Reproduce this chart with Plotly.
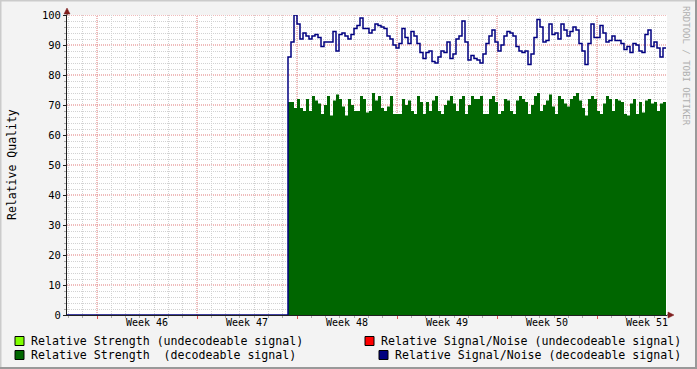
import pandas as pd
import plotly.graph_objects as go

# ---------------- data ----------------
range_start = "2009-11-06 21:36:00"
range_end = "2009-12-18 21:36:00"
data_start = "2009-11-22 08:52:48"
step = "18144s"

snr_decodeable = [
    86, 91, 100, 97, 92, 94, 93, 92, 93, 93.5,
    92.5, 89.5, 91, 91, 91, 94.5, 88, 93.5, 94, 93,
    92, 93.5, 95.5, 96.5, 99, 95.5, 95.5, 94, 95, 97,
    96.5, 96, 95.5, 93, 92, 90, 89, 90.5, 95.5, 92.5,
    90.5, 94.5, 93, 90.5, 87.5, 85.5, 87.5, 88, 84.5, 84,
    86, 88, 87.5, 91, 85.5, 87, 92, 93, 98, 91,
    85, 86.5, 85.5, 85, 84, 87, 90.5, 93, 95, 91,
    88, 90, 93, 94.5, 94, 93, 89.5, 88, 87.5, 88,
    83.5, 87, 92.5, 98.5, 96, 91, 91.5, 97, 93.5, 94,
    92, 97, 95, 93, 94.5, 96, 95, 90.5, 88, 83.5,
    90.5, 97, 92.5, 92.5, 96.5, 94, 91, 91.5, 93, 91.5,
    91.5, 90.5, 88.5, 89.5, 87.5, 90.5, 90, 88, 87.5, 93.5,
    95, 89.5, 91, 89, 86, 89, 89,
]

strength_decodeable = [
    71, 71, 69, 72, 69, 68, 72, 68, 73, 71.5,
    70.5, 67, 70, 73, 66.5, 71.5, 73.5, 72, 69.5, 66.5,
    72, 70, 68, 68, 73, 72, 67.5, 68, 74, 71.5,
    73, 69, 68, 69.5, 73, 67, 67, 67, 72, 70,
    71.5, 68, 67, 73, 71, 67, 71, 68, 71.5, 73,
    68, 67, 70, 71.5, 73, 70.5, 68, 72, 73, 67,
    70, 73, 72, 72, 73, 67, 67, 72, 73, 71,
    67, 68, 72, 71.5, 68, 67, 71.5, 73, 72, 71,
    67, 70, 73, 74, 68, 70, 71.5, 73.5, 69.5, 67,
    73, 72, 70.5, 69.5, 72, 73, 74, 71.5, 69, 66.5,
    72, 73, 72, 68, 67, 70.5, 73, 72, 68, 72,
    71.5, 71, 67, 66.5, 70.5, 72, 67, 71, 67.5, 71.5,
    72, 70.5, 71, 68, 70.5, 71, 71,
]

legend_labels = [
    "Relative Strength (undecodeable signal)",
    "Relative Signal/Noise (undecodeable signal)",
    "Relative Strength\u00a0\u00a0(decodeable signal)",
    "Relative Signal/Noise (decodeable signal)",
]
legend_colors = ["#80FF00", "#FF0000", "#006600", "#000080"]

# ---------------- figure ----------------
W, H = 697, 369
L, R, T, B = 67, 30, 15, 54
PW, PH = W - L - R, H - T - B


def px(x):
    return (x - L) / PW


def py(y):
    return (H - B - y) / PH


times = pd.date_range(data_start, periods=len(snr_decodeable), freq=step)
blue_x = [pd.Timestamp(range_start)] + list(times)
blue_y = [0] + snr_decodeable

FONT = "DejaVu Sans Mono"
MGRID = "#E07878"
GRID = "#D2D2D2"
DOT = "1px,1px"

days = pd.date_range("2009-11-06", "2009-12-19", freq="D")
week_starts = [d for d in days if d.weekday() == 0]
minor_days = [d for d in days if d.weekday() != 0]
major_y = list(range(0, 101, 10))
minor_y = [v for v in range(0, 101, 2) if v % 10 != 0]

fig = go.Figure()
fig.add_trace(go.Scatter(
    x=list(times), y=strength_decodeable, mode="lines", line_shape="hv",
    line=dict(color="#006600", width=0), fill="tozeroy", fillcolor="#006600",
    name=legend_labels[2], hoverinfo="skip"))
fig.add_trace(go.Scatter(
    x=blue_x, y=blue_y, mode="lines", line_shape="hv",
    line=dict(color="#000080", width=1.5), name=legend_labels[3], hoverinfo="skip"))
# invisible trace to activate the label axis
fig.add_trace(go.Scatter(x=[pd.Timestamp(range_start)], y=[0], xaxis="x2",
                         mode="markers", marker=dict(opacity=0), hoverinfo="skip"))

week_ms = 7 * 24 * 3600 * 1000

fig.update_layout(
    template="none",
    width=W, height=H, margin=dict(l=L, r=R, t=T, b=B),
    paper_bgcolor="#F3F3F3", plot_bgcolor="#FFFFFF", showlegend=False,
    font=dict(family=FONT, size=10, color="#000000"),
    xaxis=dict(
        type="date", range=[range_start, range_end], tickmode="array", tickvals=week_starts,
        showticklabels=False, ticks="outside", ticklen=3, tickcolor="#DE5050",
        showgrid=False,
        minor=dict(tickmode="array", tickvals=minor_days, showgrid=True,
                   gridcolor=GRID, griddash=DOT, gridwidth=1,
                   ticks="outside", ticklen=2, tickcolor="#AAAAAA"),
        showline=True, linecolor="#1F1F1F", linewidth=1, zeroline=False,
    ),
    xaxis2=dict(
        type="date", overlaying="x", matches="x", anchor="y", side="bottom",
        tick0="2009-11-12 12:00", dtick=week_ms, tickformat="Week %V",
        showgrid=False, ticks="", showline=False, zeroline=False,
        minor=dict(showgrid=False, ticks=""),
        tickfont=dict(family=FONT, size=10, color="#000000"),
    ),
    yaxis=dict(
        range=[0, 100], tickmode="array", tickvals=major_y, ticks="outside", ticklen=3,
        tickcolor="#1F1F1F",
        showgrid=False,
        minor=dict(tickmode="array", tickvals=minor_y, showgrid=True,
                   gridcolor=GRID, griddash=DOT, gridwidth=1,
                   ticks="outside", ticklen=2, tickcolor="#AAAAAA"),
        showline=True, linecolor="#1F1F1F", linewidth=1, zeroline=False,
        tickfont=dict(family=FONT, size=10.5, color="#000000"),
    ),
)

shapes = []
annotations = []

# major grid (red dotted), drawn from the tick lists
for d in week_starts:
    shapes.append(dict(type="line", xref="x", yref="paper", x0=d, x1=d, y0=0, y1=1,
                       layer="below", line=dict(color=MGRID, width=1, dash=DOT)))
for v in major_y[1:]:
    shapes.append(dict(type="line", xref="paper", yref="y", x0=0, x1=1, y0=v, y1=v,
                       layer="below", line=dict(color=MGRID, width=1, dash=DOT)))

# axis extensions and arrows
shapes.append(dict(type="line", xref="paper", yref="paper", x0=0, x1=0, y0=1, y1=py(11),
                   line=dict(color="#1F1F1F", width=1)))
shapes.append(dict(type="path", xref="paper", yref="paper",
                   path=f"M {px(64)} {py(14)} L {px(70)} {py(14)} L {px(67)} {py(8)} Z",
                   fillcolor="#7F1F1F", line=dict(color="#7F1F1F", width=0.5)))
shapes.append(dict(type="line", xref="paper", yref="paper", x0=1, x1=px(670), y0=0, y1=0,
                   line=dict(color="#1F1F1F", width=1)))
shapes.append(dict(type="path", xref="paper", yref="paper",
                   path=f"M {px(668)} {py(312)} L {px(668)} {py(318)} L {px(674)} {py(315)} Z",
                   fillcolor="#7F1F1F", line=dict(color="#7F1F1F", width=0.5)))

# frame shading
shapes.append(dict(type="line", xref="paper", yref="paper", x0=px(0), x1=px(W), y0=py(0.5), y1=py(0.5),
                   line=dict(color="#CBCBCB", width=2)))
shapes.append(dict(type="line", xref="paper", yref="paper", x0=px(0.5), x1=px(0.5), y0=py(0), y1=py(H),
                   line=dict(color="#CBCBCB", width=2)))
shapes.append(dict(type="line", xref="paper", yref="paper", x0=px(0), x1=px(W), y0=py(H - 1), y1=py(H - 1),
                   line=dict(color="#999999", width=2)))
shapes.append(dict(type="line", xref="paper", yref="paper", x0=px(W - 1), x1=px(W - 1), y0=py(0), y1=py(H),
                   line=dict(color="#999999", width=2)))

# y title
annotations.append(dict(text="Relative Quality", xref="paper", yref="paper", x=px(12), y=py(165),
                        xanchor="center", yanchor="middle", textangle=-90, showarrow=False,
                        font=dict(family=FONT, size=11.5, color="#000000")))
# watermark
annotations.append(dict(text="RRDTOOL / TOBI OETIKER", xref="paper", yref="paper", x=px(686), y=py(4),
                        xanchor="center", yanchor="top", textangle=90, showarrow=False,
                        font=dict(family=FONT, size=9, color="#AFAFAF")))

# legend
legend_pos = [(15, 341), (365, 341), (15, 355), (379, 355)]
for (bx, by), lab, col in zip(legend_pos, legend_labels, legend_colors):
    shapes.append(dict(type="rect", xref="paper", yref="paper",
                       x0=px(bx), x1=px(bx + 9), y0=py(by - 4.5), y1=py(by + 4.5),
                       fillcolor=col, line=dict(color="#000000", width=1)))
    annotations.append(dict(text=lab, xref="paper", yref="paper", x=px(bx + 14), y=py(by),
                            xanchor="left", yanchor="middle", showarrow=False,
                            font=dict(family=FONT, size=11.6, color="#000000")))

fig.update_layout(shapes=shapes, annotations=annotations)
fig.write_html("out.html")
